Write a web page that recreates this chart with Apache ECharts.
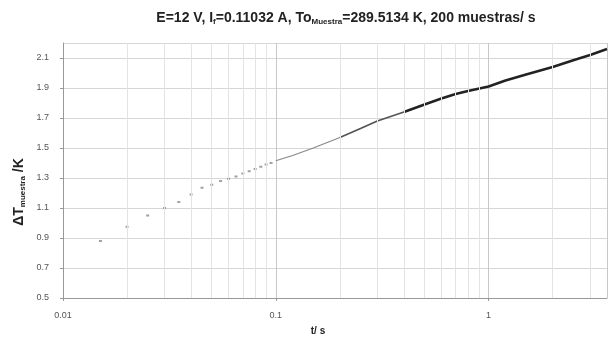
<!DOCTYPE html>
<html>
<head>
<meta charset="utf-8">
<script src="https://cdn.jsdelivr.net/npm/echarts@6/dist/echarts.min.js"></script>
<style>
  html, body { margin: 0; padding: 0; background: #fff; }
  #chart { width: 608px; height: 337px; }
</style>
</head>
<body>
<div id="chart"></div>
<script>
// datos (t en s, deltaT en K)

// puntos sueltos del principio (se ven separados en escala log)
var tPuntos = [0.015, 0.02, 0.025, 0.03, 0.035, 0.04, 0.045, 0.05, 0.055, 0.06,
  0.065, 0.07, 0.075, 0.08, 0.085, 0.09, 0.095];
var dtPuntos = [0.88, 0.975, 1.05, 1.10, 1.14, 1.19, 1.235, 1.255, 1.28, 1.295,
  1.31, 1.33, 1.345, 1.36, 1.375, 1.39, 1.40];

// tramo denso: claro
var tClaro = [0.1, 0.12, 0.15, 0.2];
var dtClaro = [1.415, 1.45, 1.50, 1.57];

// tramo denso: medio
var tMedio = [0.2, 0.25, 0.3, 0.4];
var dtMedio = [1.57, 1.63, 1.68, 1.74];

// tramo denso: oscuro
var tOscuro = [0.4, 0.5, 0.6, 0.7, 0.8, 1.0, 1.2, 1.5, 2.0, 2.5, 3.0, 3.6];
var dtOscuro = [1.74, 1.79, 1.83, 1.86, 1.88, 1.91, 1.95, 1.99, 2.04, 2.085, 2.12, 2.16];

// rejilla menor del eje log
var xMenores = [0.02, 0.03, 0.04, 0.05, 0.06, 0.07, 0.08, 0.09,
  0.2, 0.3, 0.4, 0.5, 0.6, 0.7, 0.8, 0.9, 2, 3];

function pares(xs, ys) {
  var r = [];
  for (var i = 0; i < xs.length; i++) r.push([xs[i], ys[i]]);
  return r;
}

var chart = echarts.init(document.getElementById('chart'));

var fuente = '"Liberation Sans", Arial, sans-serif';

chart.setOption({
  animation: false,
  backgroundColor: '#fff',
  grid: { left: 63, right: 1, top: 43, bottom: 39 },
  xAxis: {
    type: 'log',
    logBase: 10,
    min: 0.01,
    max: 3.6,
    axisLine: { show: true, lineStyle: { color: '#999', width: 1 } },
    axisTick: { show: true, length: 3, lineStyle: { color: '#999' } },
    axisLabel: { showMaxLabel: false, margin: 13, fontSize: 9, color: '#555', fontFamily: fuente },
    splitLine: { show: true, lineStyle: { color: '#c8c8c8', width: 1 } }
  },
  yAxis: {
    type: 'value',
    min: 0.5,
    max: 2.2,
    interval: 0.2,
    axisLine: { show: true, lineStyle: { color: '#999', width: 1 } },
    axisTick: { show: true, length: 3, lineStyle: { color: '#999' } },
    axisLabel: {
      showMaxLabel: false, margin: 14, fontSize: 9, color: '#555', fontFamily: fuente,
      formatter: function (v) { return v.toFixed(1); }
    },
    splitLine: { show: true, lineStyle: { color: '#d6d6d6', width: 1 } }
  },
  graphic: [
    {
      // titulo
      type: 'text',
      x: 346, y: 18,
      style: {
        text: '{b|E=12 V, I}{s|f}{b|=0.11032 A, To}{s|Muestra}{b|=289.5134 K, 200 muestras/ s}',
        align: 'center', verticalAlign: 'middle',
        rich: {
          b: { fontSize: 14, fontWeight: 'bold', fontFamily: fuente, fill: '#222' },
          s: { fontSize: 8, fontWeight: 'bold', fontFamily: fuente, fill: '#222', padding: [8, 0, 0, 0] }
        }
      }
    },
    {
      // nombre eje y
      type: 'text',
      x: 19, y: 192,
      rotation: Math.PI / 2,
      style: {
        text: '{b|ΔT}{s|muestra}{b| /K}',
        align: 'center', verticalAlign: 'middle',
        rich: {
          b: { fontSize: 14, fontWeight: 'bold', fontFamily: fuente, fill: '#222' },
          s: { fontSize: 8, fontWeight: 'bold', fontFamily: fuente, fill: '#222', padding: [8, 0, 0, 0] }
        }
      }
    },
    {
      // nombre eje x
      type: 'text',
      x: 318, y: 331,
      style: {
        text: 't/ s',
        align: 'center', verticalAlign: 'middle',
        fontSize: 10, fontWeight: 'bold', fontFamily: fuente, fill: '#222'
      }
    }
  ],
  series: [
    {
      type: 'line',
      data: [],
      silent: true,
      markLine: {
        silent: true,
        symbol: 'none',
        label: { show: false },
        lineStyle: { color: '#e3e3e3', width: 1, type: 'solid' },
        data: xMenores.map(function (v) { return { xAxis: v }; })
      }
    },
    {
      type: 'scatter',
      data: pares(tPuntos, dtPuntos),
      symbol: 'rect',
      symbolSize: [3, 2],
      itemStyle: { color: '#8a8a8a' },
      silent: true
    },
    {
      type: 'line',
      data: pares(tClaro, dtClaro),
      showSymbol: false,
      lineStyle: { color: '#8a8a8a', width: 1.3 },
      silent: true
    },
    {
      type: 'line',
      data: pares(tMedio, dtMedio),
      showSymbol: false,
      lineStyle: { color: '#555', width: 1.8 },
      silent: true
    },
    {
      type: 'line',
      data: pares(tOscuro, dtOscuro),
      showSymbol: false,
      lineStyle: { color: '#222', width: 2.4 },
      silent: true
    }
  ]
});
</script>
</body>
</html>
